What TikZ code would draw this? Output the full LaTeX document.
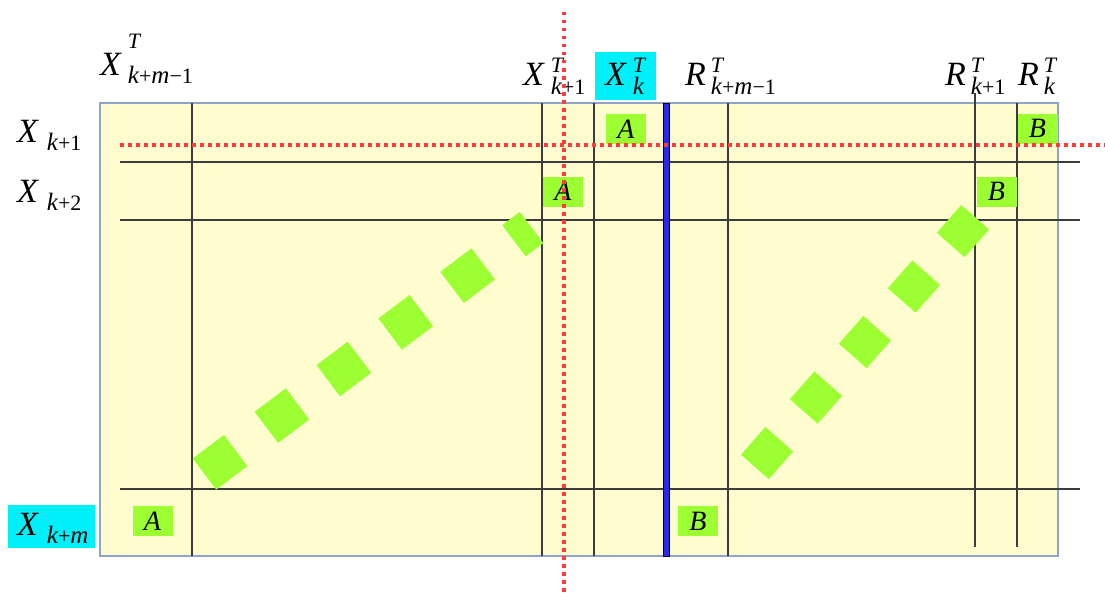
\documentclass[tikz,border=0pt]{standalone}
\usepackage{fontspec}
\setmainfont{Liberation Serif}
\definecolor{paper}{RGB}{255,253,208}
\definecolor{framec}{RGB}{140,165,200}
\definecolor{gridc}{RGB}{60,60,60}
\definecolor{lime}{RGB}{155,255,50}
\definecolor{cyanbox}{RGB}{0,240,250}
\definecolor{reddot}{RGB}{255,60,60}
\definecolor{bluebar}{RGB}{40,40,240}
\newcommand\bigf{\fontsize{34}{36}\selectfont\itshape}
\newcommand\smf{\fontsize{22}{24}\selectfont}
\newcommand\smi[1]{{\fontsize{25}{26}\selectfont\itshape #1}}
% #1 letter, #2 superscript, #3 subscript, #4 raise of superscript, #5 drop of subscript, #6 gap
\newcommand\lab[6]{{\bigf #1}\kern#6\rlap{\raisebox{#4}{\smf\itshape #2}}\raisebox{-#5}{\smf #3}}
\tikzset{
  lbl/.style={anchor=base west, inner sep=0pt},
  gbox/.style={fill=lime, minimum width=40pt, minimum height=30pt, inner sep=0pt,
               font=\fontsize{28}{28}\selectfont\itshape},
  gridl/.style={draw=gridc, line width=1.2pt},
  reddots/.style={draw=reddot, line width=3.5pt, dash pattern=on 3.5pt off 4.5pt},
  diag/.style={draw=lime, line width=39pt}
}
\begin{document}
\begin{tikzpicture}[x=1pt,y=-1pt]
\useasboundingbox (0,0) rectangle (1105,594);
% main block
\path[fill=paper, draw=framec, line width=1.5pt] (100,103) rectangle (1058,556);
% grid lines
\foreach \yy in {162,220,489} \draw[gridl] (120,\yy) -- (1080,\yy);
\foreach \xx in {192,542,594,728} \draw[gridl] (\xx,103) -- (\xx,556);
\draw[gridl] (975,93) -- (975,547);
\draw[gridl] (1017,103) -- (1017,547);
% blue bar
\path[fill=bluebar, draw=black, line width=0.6pt] (663.5,103) rectangle (669.5,556);
% diagonal dashes
\draw[diag, dash pattern=on 39pt off 38.5pt] (204.5,474) -- (531.5,227.5);
\draw[diag, line width=37pt, dash pattern=on 37pt off 37pt] (754.8,466.9) -- (975.2,217.1);
% green boxes
\node[gbox] (a1) at (626,129) {A};
\node[gbox] (a2) at (563,191.5) {A};
\node[gbox] (a3) at (152.5,521) {A};
\node[gbox] (b1) at (698,521) {B};
\node[gbox] (b2) at (996.5,191.5) {B};
\node[gbox] (b3) at (1037.5,128.5) {B};
% cyan boxes
\path[fill=cyanbox] (595,52) rectangle (656,100);
\path[fill=cyanbox] (8,505) rectangle (95,548);
% top labels
\node[lbl] (tx1) at (100,75) {\lab{X}{T}{\smi{k}+\smi{m}−1}{27pt}{8pt}{7pt}};
\node[lbl] (tx2) at (523,85) {\lab{X}{T}{\smi{k}+1}{13pt}{9pt}{7pt}};
\node[lbl] (tx3) at (605,85) {\lab{X}{T}{\smi{k}}{13pt}{9pt}{7pt}};
\node[lbl] (tr1) at (685,85) {\lab{R}{T}{\smi{k}+\smi{m}−1}{13pt}{9pt}{5pt}};
\node[lbl] (tr2) at (945,85) {\lab{R}{T}{\smi{k}+1}{13pt}{9pt}{5pt}};
\node[lbl] (tr3) at (1018,85) {\lab{R}{T}{\smi{k}}{13pt}{9pt}{5pt}};
% left labels
\node[lbl] (lx1) at (17,142) {\lab{X}{}{\smi{k}+1}{0pt}{8pt}{9pt}};
\node[lbl] (lx2) at (17,202) {\lab{X}{}{\smi{k}+2}{0pt}{8pt}{9pt}};
\node[lbl] (lx3) at (17,535) {\lab{X}{}{\smi{k}+\smi{m}}{0pt}{8pt}{9pt}};
% red dotted lines
\draw[reddots] (120,145) -- (1105,145);
\draw[reddots] (564,12) -- (564,594);
\end{tikzpicture}
\end{document}
